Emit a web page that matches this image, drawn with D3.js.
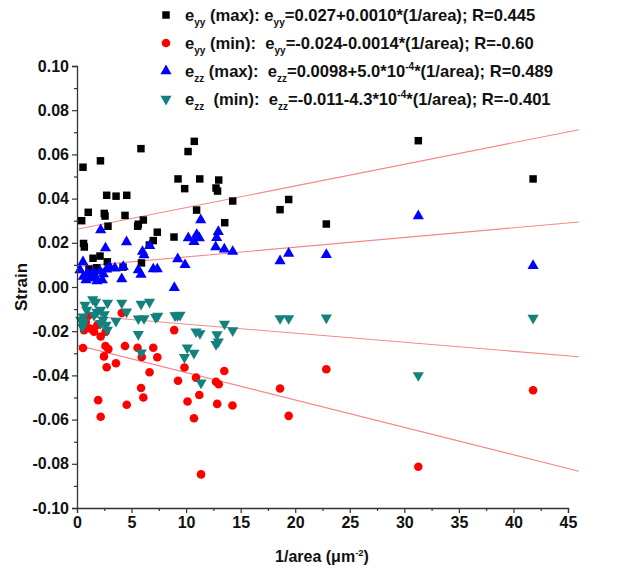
<!DOCTYPE html>
<html>
<head>
<meta charset="utf-8">
<script src="https://cdn.jsdelivr.net/npm/d3@7"></script>
<style>
  html, body { margin: 0; padding: 0; background: #fff; }
  svg { display: block; }
  text { font-family: "Liberation Sans", Arial, sans-serif; font-weight: bold; fill: #111; }
</style>
</head>
<body>
<svg id="chart" width="629" height="582"></svg>
<script>
// ---------- DATA ----------
const eyyMax = [
  [0.55,0.0542],[2.15,0.0571],[5.86,0.0626],[10.18,0.0613],[10.75,0.0659],[9.26,0.0489],
  [11.25,0.0489],[12.99,0.0484],[9.87,0.0445],[12.74,0.0448],[12.88,0.0434],[2.72,0.0415],
  [3.58,0.0411],[4.56,0.0415],[1.03,0.0338],[2.50,0.0333],[2.57,0.0321],[4.40,0.0324],
  [10.96,0.0348],[14.27,0.0389],[0.43,0.0300],[6.08,0.0303],[5.62,0.0284],[5.56,0.0275],
  [2.84,0.0275],[13.54,0.0291],[7.36,0.0248],[6.99,0.0210],[8.89,0.0226],[0.60,0.0197],
  [0.67,0.0181],[1.47,0.0130],[2.11,0.0140],[2.78,0.0114],[1.10,0.0081],[1.80,0.0087],
  [4.22,0.0090],[5.91,0.0109],[6.63,0.0190],[31.28,0.0662],[41.80,0.0489],[19.40,0.0396],
  [18.61,0.0350],[22.85,0.0285]
];
const eyyMin = [
  [4.10,-0.0118],[1.01,-0.0131],[0.80,-0.0157],[0.64,-0.0195],[1.10,-0.0187],[1.42,-0.0191],
  [1.56,-0.0202],[1.86,-0.0172],[2.17,-0.0224],[2.63,-0.0202],[0.55,-0.0276],[2.61,-0.0267],
  [2.87,-0.0281],[2.47,-0.0314],[2.72,-0.0363],[3.57,-0.0345],[4.40,-0.0267],[5.55,-0.0275],
  [6.99,-0.0275],[5.93,-0.0317],[7.36,-0.0318],[6.65,-0.0386],[8.91,-0.0195],[9.85,-0.0364],
  [9.26,-0.0424],[10.91,-0.0410],[12.74,-0.0429],[12.99,-0.0440],[13.50,-0.0380],[5.87,-0.0457],
  [6.08,-0.0500],[11.21,-0.0489],[10.13,-0.0518],[4.56,-0.0533],[1.94,-0.0512],[2.17,-0.0587],
  [10.72,-0.0594],[12.85,-0.0529],[14.25,-0.0536],[11.37,-0.0848],[22.85,-0.0372],[18.61,-0.0459],
  [19.40,-0.0583],[31.28,-0.0813],[41.80,-0.0467]
];
const ezzMax = [
  [11.34,0.0303],[2.17,0.0258],[4.54,0.0204],[6.66,0.0187],[6.00,0.0160],[6.14,0.0145],
  [10.20,0.0222],[10.97,0.0237],[10.72,0.0205],[11.21,0.0222],[12.95,0.0250],[12.80,0.0223],
  [12.71,0.0181],[13.50,0.0171],[14.27,0.0160],[9.23,0.0127],[9.90,0.0100],[2.61,0.0176],
  [6.99,0.0081],[7.36,0.0081],[5.62,0.0077],[5.87,0.0057],[4.10,0.0036],[8.92,-0.0003],
  [0.55,0.0113],[0.58,0.0047],[0.82,0.0032],[1.19,0.0039],[1.65,0.0047],[2.11,0.0072],
  [2.41,0.0059],[2.72,0.0080],[3.02,0.0090],[3.48,0.0085],[2.32,0.0032],[0.94,0.0062],
  [1.49,0.0068],[4.24,0.0092],[0.27,0.0077],[1.83,0.0027],[31.28,0.0321],[41.80,0.0096],
  [19.40,0.0152],[18.61,0.0118],[22.85,0.0146]
];
const ezzMin = [
  [0.73,-0.0081],[1.44,-0.0056],[1.70,-0.0068],[0.89,-0.0104],[0.58,-0.0134],[0.64,-0.0157],
  [0.50,-0.0181],[1.83,-0.0113],[2.17,-0.0104],[2.50,-0.0124],[2.38,-0.0149],[2.66,-0.0172],
  [2.80,-0.0072],[2.78,-0.0195],[3.57,-0.0154],[4.10,-0.0072],[4.54,-0.0112],[5.87,-0.0077],
  [6.65,-0.0068],[5.62,-0.0143],[6.14,-0.0142],[7.21,-0.0137],[7.40,-0.0131],[5.62,-0.0214],
  [5.89,-0.0297],[8.98,-0.0129],[9.21,-0.0129],[9.44,-0.0127],[10.91,-0.0202],[11.27,-0.0210],
  [12.83,-0.0215],[12.74,-0.0259],[12.95,-0.0248],[13.52,-0.0167],[14.27,-0.0197],[10.11,-0.0275],
  [10.72,-0.0299],[9.85,-0.0318],[11.37,-0.0433],[18.61,-0.0142],[19.40,-0.0142],[22.85,-0.0139],
  [31.28,-0.0400],[41.80,-0.0140],[0.34,-0.0149],[1.56,-0.0127],[2.17,-0.0164]
];
// linear fit lines (intercept, slope) drawn over fitRange
const fitIntercepts = [0.0261, -0.0263, 0.0092, -0.0127];
const fitSlopes     = [0.00098, -0.00124, 0.00044, -0.00041];
const fitRange = [0, 46];

const xTicks = [0,5,10,15,20,25,30,35,40,45];
const xTickLabels = ["0","5","10","15","20","25","30","35","40","45"];
const xMinor = [2.5,7.5,12.5,17.5,22.5,27.5,32.5,37.5,42.5];
const yTicks = [-0.10,-0.08,-0.06,-0.04,-0.02,0.00,0.02,0.04,0.06,0.08,0.10];
const yTickLabels = ["-0.10","-0.08","-0.06","-0.04","-0.02","0.00","0.02","0.04","0.06","0.08","0.10"];
const yMinor = [-0.09,-0.07,-0.05,-0.03,-0.01,0.01,0.03,0.05,0.07,0.09];

// ---------- CHART ----------
const svg = d3.select("#chart");
const x = d3.scaleLinear().domain([0,45]).range([77,568]);
const y = d3.scaleLinear().domain([-0.10,0.10]).range([508,66]);

const axisColor = "#333";

// fit lines
const fitLine = d3.line().x(d => x(d[0])).y(d => y(d[1]));
const fitG = svg.append("g");
fitIntercepts.forEach((b, i) => {
  const pts = fitRange.map(v => [v, b + fitSlopes[i]*v]);
  fitG.append("path").attr("d", fitLine(pts))
    .attr("fill","none").attr("stroke","#f08a8a").attr("stroke-width",1.1);
});

// series
const series = [
  {data: eyyMax, color: "#000000", sym: d3.symbolSquare, size: 56, rot: 0},
  {data: eyyMin, color: "#ff0000", sym: d3.symbolCircle, size: 58, rot: 0},
  {data: ezzMax, color: "#0000ff", sym: d3.symbolTriangle, size: 54, rot: 0},
  {data: ezzMin, color: "#13827c", sym: d3.symbolTriangle, size: 54, rot: 180}
];
series.forEach(s => {
  const path = d3.symbol().type(s.sym).size(s.size)();
  svg.append("g").selectAll("path").data(s.data).join("path")
    .attr("d", path)
    .attr("transform", d => `translate(${x(d[0])},${y(d[1])}) rotate(${s.rot})`)
    .attr("fill", s.color);
});

// axes
function styleAxis(g, fs) {
  g.selectAll(".domain").attr("stroke", axisColor).attr("stroke-width", 1.3);
  g.selectAll(".tick line").attr("stroke", axisColor).attr("stroke-width", 1.2);
  g.selectAll(".tick text").attr("font-family", "'Liberation Sans', Arial, sans-serif")
    .attr("font-weight", "bold").attr("font-size", fs).attr("fill", "#111");
}
const xAxis = svg.append("g").attr("transform", `translate(0,${y(-0.10)})`)
  .call(d3.axisBottom(x).tickValues(xTicks).tickFormat((d,i) => xTickLabels[i]).tickSize(5).tickPadding(4));
styleAxis(xAxis, 16);
const xAxisMinor = svg.append("g").attr("transform", `translate(0,${y(-0.10)})`)
  .call(d3.axisBottom(x).tickValues(xMinor).tickFormat("").tickSize(3));
xAxisMinor.select(".domain").remove();
styleAxis(xAxisMinor, 16);

const yAxis = svg.append("g").attr("transform", `translate(${x(0)},0)`)
  .call(d3.axisLeft(y).tickValues(yTicks).tickFormat((d,i) => yTickLabels[i]).tickSize(5).tickPadding(3));
styleAxis(yAxis, 16);
const yAxisMinor = svg.append("g").attr("transform", `translate(${x(0)},0)`)
  .call(d3.axisLeft(y).tickValues(yMinor).tickFormat("").tickSize(3));
yAxisMinor.select(".domain").remove();
styleAxis(yAxisMinor, 16);

// axis titles
svg.append("text").attr("transform", `translate(27,${y(0)}) rotate(-90)`)
  .attr("text-anchor","middle").attr("font-size",17).text("Strain");
const xt = svg.append("text").attr("x", 322).attr("y", 562).attr("text-anchor","middle").attr("font-size",16);
xt.append("tspan").text("1/area (\u03bcm");
xt.append("tspan").attr("font-size",9.5).attr("dy",-6).text("-2");
xt.append("tspan").attr("dy",6).text(")");

// legend
const legendRows = [
  {sub: "yy", label: " (max): ", eq: "=0.027+0.0010*(1/area); R=0.445", pow: null},
  {sub: "yy", label: " (min):  ", eq: "=-0.024-0.0014*(1/area); R=-0.60", pow: null},
  {sub: "zz", label: " (max):  ", eq: "=0.0098+5.0*10", pow: ["-4", "*(1/area); R=0.489"]},
  {sub: "zz", label: "  (min):  ", eq: "=-0.011-4.3*10", pow: ["-4", "*(1/area); R=-0.401"]}
];
const legendY = [15, 43, 71, 99];
legendRows.forEach((r, i) => {
  const s = series[i];
  svg.append("path").attr("d", d3.symbol().type(s.sym).size(s.size)())
    .attr("transform", `translate(166,${legendY[i]}) rotate(${s.rot})`).attr("fill", s.color);
  const t = svg.append("text").attr("x", 185).attr("y", legendY[i] + 5.5)
    .attr("font-size", 16.6).style("white-space", "pre");
  t.append("tspan").text("e");
  t.append("tspan").attr("font-size", 10).attr("dy", 5).text(r.sub);
  t.append("tspan").attr("dy", -5).text(r.label + "e");
  t.append("tspan").attr("font-size", 10).attr("dy", 5).text(r.sub);
  t.append("tspan").attr("dy", -5).text(r.eq);
  if (r.pow) {
    t.append("tspan").attr("font-size", 10).attr("dy", -7).text(r.pow[0]);
    t.append("tspan").attr("dy", 7).text(r.pow[1]);
  }
});
</script>
</body>
</html>
